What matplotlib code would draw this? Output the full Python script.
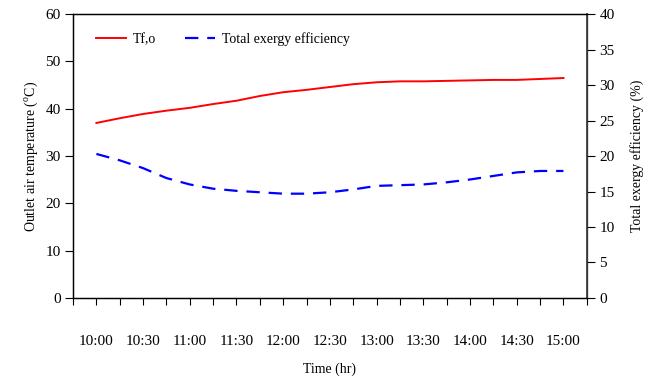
import matplotlib
matplotlib.use("Agg")
import matplotlib.pyplot as plt

plt.rcParams["font.family"] = "Liberation Serif"
plt.rcParams["mathtext.fontset"] = "custom"
plt.rcParams["mathtext.rm"] = "Liberation Serif"

# readings every 15 minutes from 10:00 to 15:00 (minutes after 10:00)
minutes = list(range(0, 301, 15))
outlet_temp = [37.0, 38.0, 38.9, 39.6, 40.2, 41.0, 41.7, 42.7, 43.5, 44.0, 44.6,
               45.2, 45.6, 45.8, 45.8, 45.9, 46.0, 46.1, 46.1, 46.3, 46.5]
exergy_eff = [20.3, 19.4, 18.3, 16.9, 16.0, 15.4, 15.1, 14.9, 14.7, 14.7, 14.9,
              15.3, 15.8, 15.9, 16.0, 16.3, 16.7, 17.2, 17.7, 17.9, 17.9]
time_labels = ["10:00", "10:30", "11:00", "11:30", "12:00", "12:30",
               "13:00", "13:30", "14:00", "14:30", "15:00"]

fig = plt.figure(figsize=(6.52, 3.83), dpi=100)
ax = fig.add_axes([0.112, 0.222, 0.788, 0.741])
ax2 = ax.twinx()

l1, = ax.plot(minutes, outlet_temp, color="#ff0000", lw=1.4, label="Tf,o")
l2, = ax2.plot(minutes, exergy_eff, color="#0000ff", lw=1.6,
               linestyle=(0, (6, 4)), label="Total exergy efficiency")

ax.set_xlim(-15, 315)
ax.set_ylim(0, 60)
ax2.set_ylim(0, 40)

ax.set_xticks(range(-15, 316, 15), minor=True)
ax.set_xticks(range(0, 301, 30))
ax.set_xticklabels(time_labels)
ax.tick_params(axis="x", which="both", direction="out", length=5, width=0.8)
ax.tick_params(axis="x", which="major", pad=22, labelsize=11)
ax.set_yticks(range(0, 61, 10))
ax.tick_params(axis="y", direction="out", length=6, width=0.8, labelsize=11, pad=3)
ax2.set_yticks(range(0, 41, 5))
ax2.tick_params(axis="y", direction="out", length=6, width=0.8, labelsize=11, pad=3)

for sp in ax.spines.values():
    sp.set_linewidth(0.9)
for sp in ax2.spines.values():
    sp.set_linewidth(0.9)
ax2.spines["right"].set_color("#404040")
ax2.spines["right"].set_linewidth(1.3)

ax.set_xlabel("Time (hr)", fontsize=10, labelpad=10)
ax.set_ylabel(r"Outlet air temperature ($^{\rm o}$C)", fontsize=10, labelpad=4)
ax2.set_ylabel("Total exergy efficiency (%)", fontsize=10, labelpad=11)

ax.legend(handles=[l1, l2], loc="upper left", ncol=2, frameon=False, fontsize=10,
          handlelength=2.15, columnspacing=2.1, handletextpad=0.5,
          bbox_to_anchor=(0.02, 0.98))

fig.savefig("out.png", dpi=100)
